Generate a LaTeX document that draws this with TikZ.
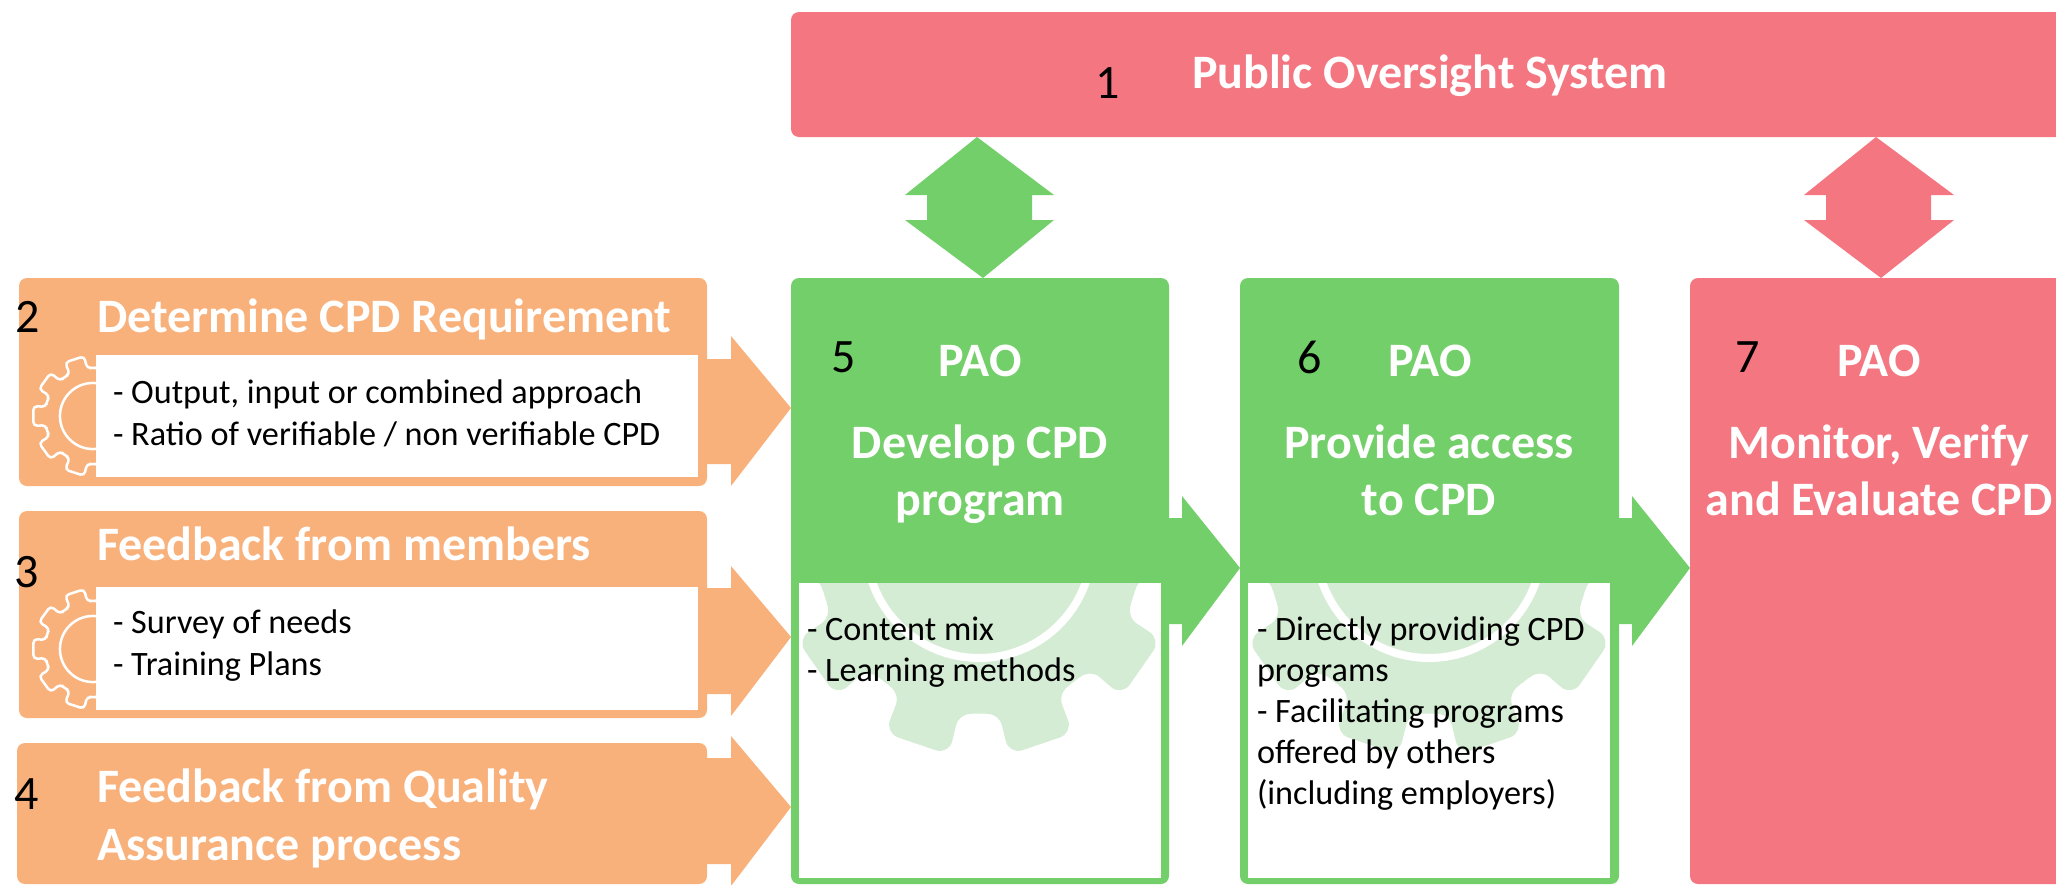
\documentclass[tikz,border=0pt]{standalone}
\usepackage{fontspec}
\setmainfont{Carlito}
\definecolor{cOrange}{HTML}{F9B17C}
\definecolor{cGreen}{HTML}{73CF69}
\definecolor{cRed}{HTML}{F47681}
\definecolor{cPale}{HTML}{D5ECD4}
\tikzset{
  panel/.style={inner sep=0pt,outer sep=0pt,rounded corners=8pt},
  sheet/.style={inner sep=0pt,outer sep=0pt,fill=white},
  title/.style={inner sep=0pt,outer sep=0pt,text=white,font=\fontsize{48}{57}\selectfont\bfseries,anchor=base west,align=left},
  ctitle/.style={inner sep=0pt,outer sep=0pt,text=white,font=\fontsize{48}{57}\selectfont\bfseries,anchor=base,align=center},
  body/.style={inner sep=0pt,outer sep=0pt,text=black,font=\fontsize{34.2}{41.5}\selectfont,anchor=base west,align=left},
  num/.style={inner sep=0pt,outer sep=0pt,text=black,font=\fontsize{48}{50}\selectfont},
}
\newcommand{\panelbox}[6]{\node[#2,minimum width={(#5-#3)*1pt},minimum height={(#6-#4)*1pt}] (#1) at ({(#3+#5)/2},{(#4+#6)/2}) {};}
% gear outline: ten teeth, one every 36 degrees
\newcommand{\gearpath}{
  (-11:168)
  \foreach \g in {0,36,...,324}{
    -- ({\g-9.5}:212) -- ({\g+9.5}:212) -- ({\g+11}:168) -- ({\g+18}:170) -- ({\g+25}:168)
  } -- cycle
}
\newcommand{\biggear}[1]{
  \begin{scope}[shift={(#1,545)}]
    \fill[cPale,rounded corners=14pt,xscale=0.96] \gearpath;
    \draw[white,line width=8pt] (0,0) circle[radius=113];
  \end{scope}
}
\newcommand{\smallgear}[1]{
  \begin{scope}[shift={(93,#1)},scale=0.285]
    \draw[white,line width=2.5pt,rounded corners=4pt] \gearpath;
    \draw[white,line width=2.5pt] (0,0) circle[radius=116];
  \end{scope}
}
\begin{document}
\begin{tikzpicture}[x=1pt,y=-1pt]
\useasboundingbox (0,0) rectangle (2056,884);
\clip (0,0) rectangle (2056,884);
% panels
\panelbox{top}{panel,fill=cRed}{791}{12}{2080}{137}
\panelbox{box2}{panel,fill=cOrange}{19}{278}{707}{486}
\panelbox{box3}{panel,fill=cOrange}{19}{511}{707}{718}
\panelbox{box4}{panel,fill=cOrange}{17}{743}{707}{884}
\panelbox{box5}{panel,fill=cGreen}{791}{278}{1169}{884}
\panelbox{box6}{panel,fill=cGreen}{1240}{278}{1619}{884}
\panelbox{box7}{panel,fill=cRed}{1690}{278}{2080}{884}
% block arrows
\fill[cOrange] (box2.east |- 0,359) -- (731,359) -- (731,336) -- (box5.west |- 0,408) -- (731,486) -- (731,464) -- (box2.east |- 0,464) -- cycle;
\fill[cOrange] (box3.east |- 0,588) -- (731,588) -- (731,566) -- (box5.west |- 0,637) -- (731,716) -- (731,694) -- (box3.east |- 0,694) -- cycle;
\fill[cOrange] (box4.east |- 0,758) -- (731,758) -- (731,736) -- (box5.west |- 0,807) -- (731,886) -- (731,864) -- (box4.east |- 0,864) -- cycle;
\fill[cGreen] (box5.east |- 0,518) -- (1182,518) -- (1182,496) -- (box6.west |- 0,568) -- (1182,646) -- (1182,624) -- (box5.east |- 0,624) -- cycle;
\fill[cGreen] (box6.east |- 0,518) -- (1632,518) -- (1632,496) -- (box7.west |- 0,568) -- (1632,646) -- (1632,624) -- (box6.east |- 0,624) -- cycle;
\fill[cGreen] (977,0 |- top.south) -- (1054,195) -- (1032,195) -- (1032,220) -- (1054,220) -- (983,0 |- box5.north) -- (905,220) -- (927,220) -- (927,195) -- (905,195) -- cycle;
\fill[cRed] (1876,0 |- top.south) -- (1954,195) -- (1931,195) -- (1931,220) -- (1954,220) -- (1881,0 |- box7.north) -- (1804,220) -- (1826,220) -- (1826,195) -- (1804,195) -- cycle;
% small gears
\smallgear{416}
\smallgear{649}
% white sheets
\panelbox{s2}{sheet}{96}{355}{698}{477}
\panelbox{s3}{sheet}{96}{587}{698}{710}
\panelbox{s5}{sheet}{799}{583}{1161}{878}
\panelbox{s6}{sheet}{1248}{583}{1610}{878}
% large pale gears
\begin{scope}
  \clip (s5.south west) rectangle (s5.north east);
  \biggear{979}
\end{scope}
\begin{scope}
  \clip (s6.south west) rectangle (s6.north east);
  \biggear{1429}
\end{scope}
% titles
\node[title] (t1) at (1192,88.5) {Public Oversight System};
\node[title] (t2) at (97,332.5) {Determine CPD Requirement};
\node[title] (t3) at (97,560.5) {Feedback from members};
\node[title] (t4a) at (97,802.5) {Feedback from Quality};
\node[title] (t4b) at (97,860.5) {Assurance process};
\node[ctitle] (p5) at (980,376.5) {PAO};
\node[ctitle] (t5a) at (980,458.5) {Develop CPD};
\node[ctitle] (t5b) at (980,515.5) {program};
\node[ctitle] (p6) at (1430,376.5) {PAO};
\node[ctitle] (t6a) at (1429,458.5) {Provide access};
\node[ctitle] (t6b) at (1429,515.5) {to CPD};
\node[ctitle] (p7) at (1879,376.5) {PAO};
\node[ctitle] (t7a) at (1879,458.5) {Monitor, Verify};
\node[ctitle] (t7b) at (1879,515.5) {and Evaluate CPD};
% body text
\node[body] (b2a) at (113,403) {- Output, input or combined approach};
\node[body] (b2b) at (113,445) {- Ratio of verifiable / non verifiable CPD};
\node[body] (b3a) at (113,633) {- Survey of needs};
\node[body] (b3b) at (113,675) {- Training Plans};
\node[body] (b5a) at (807,640) {- Content mix};
\node[body] (b5b) at (807,681) {- Learning methods};
\node[body] (b6a) at (1257,640) {- Directly providing CPD};
\node[body] (b6b) at (1257,681) {programs};
\node[body] (b6c) at (1257,722) {- Facilitating programs};
\node[body] (b6d) at (1257,763) {offered by others};
\node[body] (b6e) at (1257,804) {(including employers)};
% numbers
\node[num] (n1) at (1108,83) {1};
\node[num] (n2) at (28,317) {2};
\node[num] (n3) at (27,572) {3};
\node[num] (n4) at (27,794) {4};
\node[num] (n5) at (844,357) {5};
\node[num] (n6) at (1310,357) {6};
\node[num] (n7) at (1748,357) {7};
\end{tikzpicture}
\end{document}
